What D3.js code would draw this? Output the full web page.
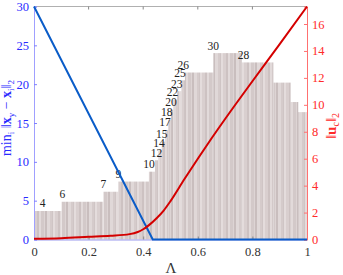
<!DOCTYPE html>
<html>
<head>
<meta charset="utf-8">
<script src="https://cdn.jsdelivr.net/npm/d3@7"></script>
<style>
  body { margin: 0; background: #fff; }
  text { font-family: "Liberation Serif", "DejaVu Serif", serif; }
</style>
</head>
<body>
<script>
// steps of the bar histogram (left axis units)
var barStart  = [0, 0.101, 0.254, 0.309, 0.421, 0.443, 0.455, 0.468, 0.480, 0.492, 0.502, 0.510, 0.524, 0.540, 0.553, 0.657, 0.761, 0.877, 0.940, 0.968];
var barEnd    = [0.101, 0.254, 0.309, 0.421, 0.443, 0.455, 0.468, 0.480, 0.492, 0.502, 0.510, 0.524, 0.540, 0.553, 0.657, 0.761, 0.877, 0.940, 0.968, 1.0];
var barHeight = [3.67, 4.86, 6.15, 7.46, 8.73, 10.2, 11.5, 12.6, 14.1, 15.4, 16.7, 18.0, 19.1, 20.5, 21.5, 24.0, 22.8, 20.2, 17.7, 16.4];
var barLabel  = ["4", "6", "7", "9", "10", "12", "14", "15", "17", "18", "20", "22", "23", "25", "26", "30", "28", "", "", ""];
var labelAt   = [0.032, 0.104, 0.254, 0.309, 0.421, 0.449, 0.458, 0.468, 0.480, 0.486, 0.502, 0.507, 0.523, 0.535, 0.547, 0.657, 0.767, 0, 0, 0];

// blue line: min distance (left axis)
var distL = [0, 0.435, 1];
var distV = [30, 0, 0];

// red line: ||u_c|| (right axis)
var normL = [0, 0.1, 0.2, 0.28, 0.35, 0.38, 0.4, 0.42, 0.45, 0.475, 0.5, 0.55, 0.6, 0.65, 0.7, 0.8, 0.9, 1];
var normV = [0.05, 0.1, 0.2, 0.28, 0.4, 0.56, 0.76, 1.05, 1.6, 2.15, 2.85, 4.45, 6.0, 7.5, 8.95, 11.75, 14.5, 17.3];

var xTicks = [0, 0.2, 0.4, 0.6, 0.8, 1];
var yLTicks = [0, 5, 10, 15, 20, 25, 30];
var yRTicks = [0, 2, 4, 6, 8, 10, 12, 14, 16];

var W = 343, H = 275;
var pL = 34, pR = 307, pT = 6.5, pB = 239.5;

var svg = d3.select('body').append('svg').attr('width', W).attr('height', H);

var x = d3.scaleLinear().domain([0, 1]).range([pL, pR]);
var yL = d3.scaleLinear().domain([0, 30]).range([pB, pT]);
var yR = d3.scaleLinear().domain([0, 17.3]).range([pB, pT]);

// stripe pattern for the bars
var stripes = [['#d9cfcf', 3], ['#cdc2c2', 2], ['#e2dada', 2], ['#d3c9c9', 3], ['#ddd4d4', 1], ['#c9bebe', 2], ['#e0d8d8', 3], ['#d5cbcb', 2], ['#cfc5c5', 1], ['#e4dcdc', 2]];
var pw = d3.sum(stripes, function(s) { return s[1]; });
var pat = svg.append('defs').append('pattern')
    .attr('id', 'stripe').attr('patternUnits', 'userSpaceOnUse')
    .attr('x', pL).attr('y', 0).attr('width', pw).attr('height', H);
var off = 0;
stripes.forEach(function(s) {
  pat.append('rect').attr('x', off).attr('y', 0).attr('width', s[1]).attr('height', H).attr('fill', s[0]);
  off += s[1];
});

var bars = d3.range(barStart.length);

svg.append('g').selectAll('rect').data(bars).enter().append('rect')
    .attr('x', function(i) { return x(barStart[i]); })
    .attr('y', function(i) { return yL(barHeight[i]); })
    .attr('width', function(i) { return x(barEnd[i]) - x(barStart[i]); })
    .attr('height', function(i) { return yL(0) - yL(barHeight[i]); })
    .attr('fill', 'url(#stripe)');

svg.append('g').selectAll('text').data(bars.filter(function(i) { return barLabel[i]; })).enter().append('text')
    .attr('x', function(i) { return x(labelAt[i]); })
    .attr('y', function(i) { return yL(barHeight[i]) - 3.5; })
    .attr('text-anchor', 'middle')
    .attr('font-size', 11.5)
    .attr('fill', '#222')
    .text(function(i) { return barLabel[i]; });

// frame top
svg.append('line').attr('x1', pL).attr('x2', pR).attr('y1', pT).attr('y2', pT).attr('stroke', '#b0b0b0').attr('stroke-width', 1);
svg.append('g').selectAll('line').data(xTicks.slice(1, -1)).enter().append('line')
    .attr('x1', function(d) { return x(d); }).attr('x2', function(d) { return x(d); })
    .attr('y1', pT).attr('y2', pT + 3).attr('stroke', '#888');

// bottom axis
var xa = svg.append('g').attr('transform', 'translate(0,' + pB + ')')
    .call(d3.axisBottom(x).tickValues(xTicks).tickSize(-3).tickPadding(8).tickFormat(d3.format('')));
xa.select('.domain').attr('stroke', '#9a9aee');
xa.selectAll('.tick line').attr('stroke', '#888');
xa.selectAll('text').attr('font-size', 12.5).attr('fill', '#333').attr('font-family', '"Liberation Serif", serif');

// left axis
var la = svg.append('g').attr('transform', 'translate(' + pL + ',0)')
    .call(d3.axisLeft(yL).tickValues(yLTicks).tickSize(-3).tickPadding(5));
la.select('.domain').attr('stroke', '#a0a0ff');
la.selectAll('.tick line').attr('stroke', '#8080ff');
la.selectAll('text').attr('font-size', 12.5).attr('fill', '#2a2aff').attr('font-family', '"Liberation Serif", serif');

// right axis
var ra = svg.append('g').attr('transform', 'translate(' + pR + ',0)')
    .call(d3.axisRight(yR).tickValues(yRTicks).tickSize(-3).tickPadding(5));
ra.select('.domain').attr('stroke', '#ff7070');
ra.selectAll('.tick line').attr('stroke', '#ff7070');
ra.selectAll('text').attr('font-size', 12.5).attr('fill', '#ff2a2a').attr('font-family', '"Liberation Serif", serif');

// lines
var blueLine = d3.line().x(function(i) { return x(distL[i]); }).y(function(i) { return yL(distV[i]); });
svg.append('path').datum(d3.range(distL.length)).attr('d', blueLine)
    .attr('fill', 'none').attr('stroke', '#0a5cc8').attr('stroke-width', 2);

var redLine = d3.line().curve(d3.curveMonotoneX).x(function(i) { return x(normL[i]); }).y(function(i) { return yR(normV[i]); });
svg.append('path').datum(d3.range(normL.length)).attr('d', redLine)
    .attr('fill', 'none').attr('stroke', '#d40000').attr('stroke-width', 2);

// axis titles
svg.append('text').attr('x', 171).attr('y', 273).attr('text-anchor', 'middle')
    .attr('font-size', 15).attr('fill', '#333').text('Λ');

var lt = svg.append('text').attr('transform', 'translate(11,118) rotate(-90)')
    .attr('text-anchor', 'middle').attr('font-size', 14).attr('fill', '#2a2aff');
lt.append('tspan').text('min');
lt.append('tspan').attr('font-size', 9).attr('dy', 3).text('i');
lt.append('tspan').attr('dy', -3).text(' ‖');
lt.append('tspan').attr('font-weight', 'bold').text('x');
lt.append('tspan').attr('font-size', 9).attr('dy', 3).text('y');
lt.append('tspan').attr('dy', -3).text(' − ');
lt.append('tspan').attr('font-weight', 'bold').text('x');
lt.append('tspan').attr('font-size', 9).attr('dy', 3).text('i');
lt.append('tspan').attr('dy', -3).text('‖');
lt.append('tspan').attr('font-size', 9).attr('dy', 3).text('2');

var rt = svg.append('text').attr('transform', 'translate(336,126) rotate(-90)')
    .attr('text-anchor', 'middle').attr('font-size', 15).attr('fill', '#ff2a2a');
rt.append('tspan').text('‖');
rt.append('tspan').attr('font-weight', 'bold').text('u');
rt.append('tspan').attr('font-size', 10).attr('dy', 3).text('c');
rt.append('tspan').attr('dy', -3).text('‖');
rt.append('tspan').attr('font-size', 10).attr('dy', 3).text('2');
</script>
</body>
</html>
